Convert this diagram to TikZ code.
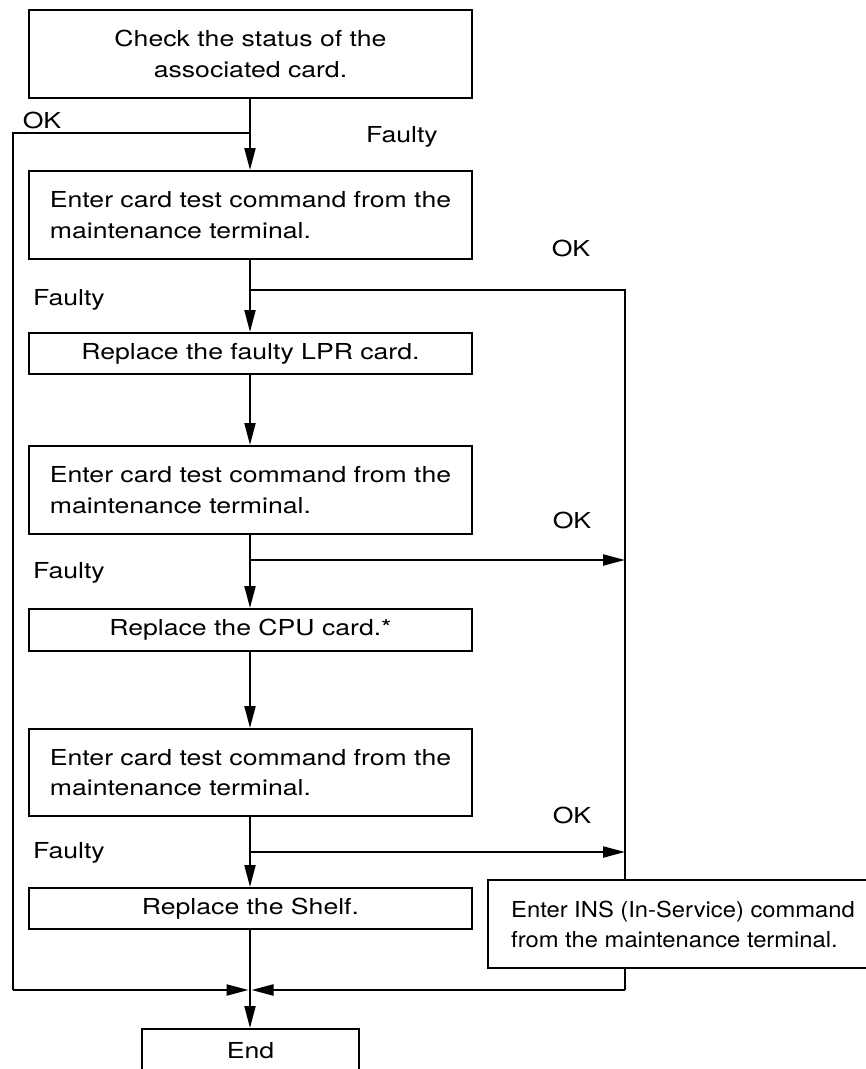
\documentclass[tikz,border=0pt]{standalone}
\usepackage{fontspec}
\setmainfont[FakeStretch=1.21]{TeX Gyre Heros}
\newfontfamily\insfont[FakeStretch=1.08]{TeX Gyre Heros}
\usetikzlibrary{arrows.meta}
\begin{document}
\begin{tikzpicture}[x=1pt,y=-1pt,
  every node/.style={font=\fontsize{22}{30.5}\selectfont},
  box/.style={draw, line width=2.1pt, fill=white, inner sep=0pt, anchor=north,
    minimum width=443pt},
  tall/.style={box, minimum height=88pt, align=left},
  short/.style={box, minimum height=41pt, align=center},
  lbl/.style={inner sep=0pt},
  conn/.style={line width=2.1pt},
  arr/.style={conn, -{Triangle[length=22pt,width=11pt]}}]
\useasboundingbox (0,0) rectangle (866,1069);

% boxes
\node[box, minimum height=88pt, align=center] (b1) at (250.5,9) {Check the status of the\\associated card.};
\node[tall] (b2) at (250.5,170) {Enter card test command from the\\maintenance terminal.};
\node[short] (b3) at (250.5,332) {Replace the faulty LPR card.};
\node[tall] (b4) at (250.5,445) {Enter card test command from the\\maintenance terminal.};
\node[short, minimum height=42pt] (b5) at (250.5,608) {Replace the CPU card.*};
\node[tall, minimum height=87pt] (b6) at (250.5,728) {Enter card test command from the\\maintenance terminal.};
\node[short] (b7) at (250.5,887) {Replace the Shelf.};
\node[draw, line width=2.1pt, fill=white, inner sep=0pt, minimum height=88pt,
  minimum width=390pt, anchor=north west, align=left,
  font=\insfont\fontsize{22}{30}\selectfont] (ins) at (487,879)
  {Enter INS (In-Service) command\\from the maintenance terminal.};
\node[box, minimum width=217pt, minimum height=44pt] (end) at (250.5,1028) {End};

% coordinates
\coordinate (j0) at (250,133);
\coordinate (okl) at (13,133);
\coordinate (okb) at (13,990);
\coordinate (m) at (250,990);
\coordinate (j1) at (250,290);
\coordinate (r1) at (625,290);
\coordinate (j2) at (250,560);
\coordinate (r2) at (625,560);
\coordinate (j3) at (250,852);
\coordinate (r3) at (625,852);
\coordinate (rb) at (625,990);

% connectors
\draw[arr] (b1.south -| j0) -- (b2.north -| j0);
\draw[arr] (b2.south -| j0) -- (b3.north -| j0);
\draw[arr] (b3.south -| j0) -- (b4.north -| j0);
\draw[arr] (b4.south -| j0) -- (b5.north -| j0);
\draw[arr] (b5.south -| j0) -- (b6.north -| j0);
\draw[arr] (b6.south -| j0) -- (b7.north -| j0);
\draw[arr] (b7.south -| j0) -- (end.north -| j0);

\draw[conn] (j0) -- (okl) -- (okb);
\draw[arr] (okb) -- ([xshift=-1.5pt]m);
\draw[conn] (j1) -- (r1) -- (ins.north -| r1);
\draw[arr] (j2) -- (r2);
\draw[arr] (j3) -- (r3);
\draw[conn] (ins.south -| rb) -- (rb);
\draw[arr] (rb) -- ([xshift=1.5pt]m);

% labels
\node[lbl] (l1) at (42,120) {OK};
\node[lbl] (l2) at (402,137) {Faulty};
\node[lbl] (l3) at (571,248) {OK};
\node[lbl] (l4) at (69,300) {Faulty};
\node[lbl] (l5) at (572,520) {OK};
\node[lbl] (l6) at (69,573) {Faulty};
\node[lbl] (l7) at (572,815) {OK};
\node[lbl] (l8) at (69,853) {Faulty};
\end{tikzpicture}
\end{document}
